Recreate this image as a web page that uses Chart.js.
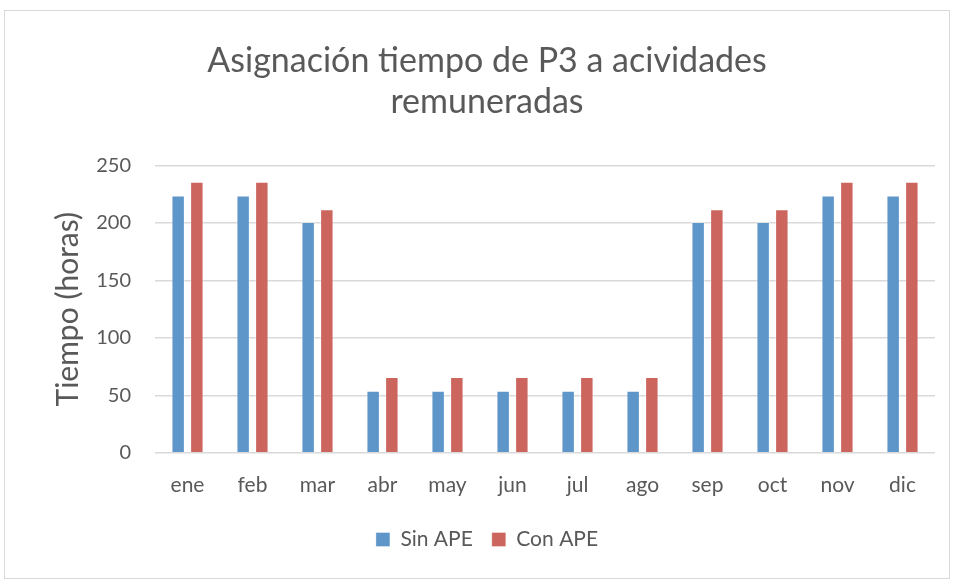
<!DOCTYPE html>
<html>
<head>
<meta charset="utf-8">
<script src="https://cdn.jsdelivr.net/npm/chart.js@4"></script>
<style>
  html, body { margin: 0; padding: 0; background: #fff; }
  #wrap { width: 954px; height: 580px; }
</style>
</head>
<body>
<div id="wrap"><canvas id="tiempochart" width="954" height="580"></canvas></div>
<script>
var meses = ['ene', 'feb', 'mar', 'abr', 'may', 'jun', 'jul', 'ago', 'sep', 'oct', 'nov', 'dic'];
var sinAPE = [224, 224, 201, 54, 54, 54, 54, 54, 201, 201, 224, 224];
var conAPE = [236, 236, 212, 66, 66, 66, 66, 66, 212, 212, 236, 236];
var tituloLineas = ['Asignación tiempo de P3 a acividades', 'remuneradas'];

var gris = '#595959';
var fuente = 'Lato, "Open Sans", sans-serif';

// marco gris claro alrededor del grafico (como en Excel)
var marco = {
    id: 'marco',
    beforeDraw: function (chart) {
        var ctx = chart.ctx;
        ctx.save();
        ctx.fillStyle = '#ffffff';
        ctx.fillRect(0, 0, chart.width, chart.height);
        ctx.strokeStyle = '#d9d9d9';
        ctx.lineWidth = 1;
        ctx.strokeRect(4.5, 10.5, 945, 568);
        ctx.restore();
    }
};

var tiempoctx = document.getElementById('tiempochart').getContext('2d');
var tiempochart = new Chart(tiempoctx, {
    type: 'bar',
    data: {
        labels: meses,
        datasets: [{
            label: 'Sin APE',
            data: sinAPE,
            backgroundColor: '#5f96ca',
            borderColor: 'rgba(255,255,255,0.35)',
            borderWidth: 1,
            categoryPercentage: 0.575,
            barPercentage: 0.72
        }, {
            label: 'Con APE',
            data: conAPE,
            backgroundColor: '#cc655e',
            borderColor: 'rgba(255,255,255,0.35)',
            borderWidth: 1,
            categoryPercentage: 0.575,
            barPercentage: 0.72
        }]
    },
    options: {
        responsive: false,
        animation: false,
        layout: { padding: { left: 39, right: 19, top: 10, bottom: 20 } },
        plugins: {
            title: {
                display: true,
                text: tituloLineas,
                color: gris,
                font: { family: fuente, size: 34, weight: 'normal', lineHeight: 1.2 },
                padding: { top: 31, bottom: 43 }
            },
            legend: {
                position: 'bottom',
                labels: {
                    color: gris,
                    font: { family: fuente, size: 21 },
                    boxWidth: 14,
                    boxHeight: 14,
                    padding: 19
                }
            },
            tooltip: { enabled: false }
        },
        scales: {
            x: {
                grid: { display: false },
                border: { display: false },
                ticks: { color: gris, font: { family: fuente, size: 21 }, padding: 12 }
            },
            y: {
                min: 0,
                max: 250,
                afterFit: function (scale) { scale.width = 116; },
                ticks: { stepSize: 50, color: gris, font: { family: fuente, size: 20 }, padding: 24 },
                grid: { color: '#d9d9d9', lineWidth: 1.5, drawTicks: false },
                border: { display: false },
                title: {
                    display: true,
                    text: 'Tiempo (horas)',
                    color: gris,
                    font: { family: fuente, size: 30 },
                    padding: { top: 11, bottom: 8 }
                }
            }
        }
    },
    plugins: [marco]
});
</script>
</body>
</html>
